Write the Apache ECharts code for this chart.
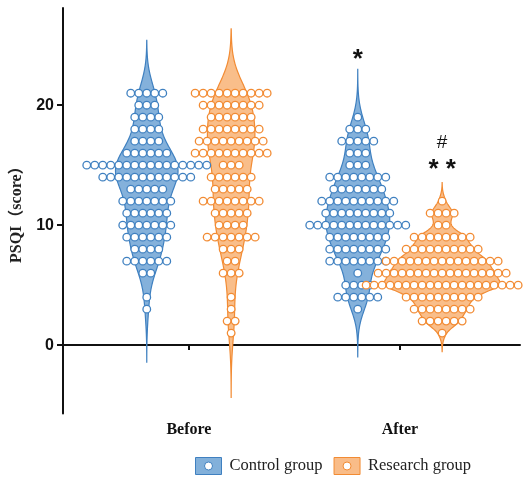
<!DOCTYPE html>
<html><head><meta charset="utf-8">
<script src="https://cdn.jsdelivr.net/npm/echarts@6/dist/echarts.min.js"></script>
<style>html,body{margin:0;padding:0;background:#fff}#c{width:523px;height:477px}</style>
</head><body><div id="c"></div>
<script>
// ---------------- data ----------------
const timeLabels = ['Before', 'After'];
const groupNames = ['Control group', 'Research group'];

// PSQI score rows and number of subjects on each row
const beforeControlScores  = [21,20,19,18,17,16,15,14,13,12,11,10,9,8,7,6,4,3];
const beforeControlCounts  = [5,3,4,4,4,6,16,12,5,7,6,7,6,4,6,2,1,1];
const beforeResearchScores = [21,20,19,18,17,16,15,14,13,12,11,10,9,8,7,6,4,3,2,1];
const beforeResearchCounts = [10,8,6,8,9,10,3,6,5,8,5,4,7,3,2,3,1,1,2,1];
const afterControlScores   = [19,18,17,16,15,14,13,12,11,10,9,8,7,6,5,4,3];
const afterControlCounts   = [1,3,5,3,3,8,7,10,9,13,8,8,8,1,4,6,1];
const afterResearchScores  = [12,11,10,9,8,7,6,5,4,3,2,1];
const afterResearchCounts  = [1,4,2,8,10,15,17,20,10,8,6,1];

// significance marks
const annotationTexts  = ['*', '#', '* *'];
const annotationTime   = [1, 1, 1];
const annotationGroup  = [0, 1, 1];
const annotationScores = [23.75, 16.85, 14.6];

const yTickValues = [0, 10, 20];

// ---------------- styles ----------------
const strokeColors = ['#3F80C0', '#F28B33'];
const fillColors   = ['#84B1DB', '#F9BE8A'];
const legendFill   = ['#82B0DA', '#F9BC88'];
const DOT_STEP = 8;          // px between neighbouring dots on a row
const DOT_R = 3.8;
const MAX_HALF_WIDTH = 58;   // px, widest violin half width
const GROUP_SHIFT = 0.2;     // x offset of the two groups around each time point

const cells = [
  { t: 0, g: 0, scores: beforeControlScores,  counts: beforeControlCounts },
  { t: 0, g: 1, scores: beforeResearchScores, counts: beforeResearchCounts },
  { t: 1, g: 0, scores: afterControlScores,   counts: afterControlCounts },
  { t: 1, g: 1, scores: afterResearchScores,  counts: afterResearchCounts }
];
function cellX(t, g) { return (t + 1) + (g === 0 ? -GROUP_SHIFT : GROUP_SHIFT); }

// kernel density (Silverman bandwidth), tails extended by 3h
function quantile(sorted, p) {
  const pos = (sorted.length - 1) * p, lo = Math.floor(pos), hi = Math.ceil(pos);
  return sorted[lo] + (sorted[hi] - sorted[lo]) * (pos - lo);
}
cells.forEach(c => {
  const vals = [];
  c.scores.forEach((s, i) => { for (let k = 0; k < c.counts[i]; k++) vals.push(s); });
  vals.sort((a, b) => a - b);
  const n = vals.length;
  const mean = vals.reduce((a, b) => a + b, 0) / n;
  const sd = Math.sqrt(vals.reduce((a, b) => a + (b - mean) * (b - mean), 0) / (n - 1));
  const iqr = quantile(vals, 0.75) - quantile(vals, 0.25);
  const h = 0.9 * Math.min(sd, iqr / 1.34) * Math.pow(n, -0.2);
  const lo = vals[0] - 3 * h, hi = vals[n - 1] + 3 * h;
  const steps = 240, pts = [];
  for (let i = 0; i <= steps; i++) {
    const y = lo + (hi - lo) * i / steps;
    let d = 0;
    c.scores.forEach((s, j) => { const z = (y - s) / h; d += c.counts[j] * Math.exp(-0.5 * z * z); });
    d /= n * h * Math.sqrt(2 * Math.PI);
    if (i === 0 || i === steps) d = 0;
    pts.push([y, d]);
  }
  c.kde = pts;
  c.median = quantile(vals, 0.5);
});
const maxDensity = Math.max(...cells.map(c => Math.max(...c.kde.map(p => p[1]))));
const pxPerDensity = MAX_HALF_WIDTH / maxDensity;

// ---------------- series ----------------
const series = [];
[0, 1].forEach(g => {
  const myCells = cells.filter(c => c.g === g);
  series.push({
    type: 'custom', name: groupNames[g], silent: true,
    data: myCells.map(c => [cellX(c.t, c.g), c.median]),
    renderItem: (params, api) => {
      const c = myCells[params.dataIndex];
      const xc = cellX(c.t, c.g);
      const right = [], left = [];
      c.kde.forEach(([y, d]) => {
        const p = api.coord([xc, y]);
        right.push([p[0] + d * pxPerDensity, p[1]]);
        left.push([p[0] - d * pxPerDensity, p[1]]);
      });
      return { type: 'polygon', shape: { points: right.concat(left.reverse()) },
        style: { fill: fillColors[g], stroke: strokeColors[g], lineWidth: 1.2 } };
    }
  });
});
[0, 1].forEach(g => {
  const dots = [];
  cells.filter(c => c.g === g).forEach(c => {
    c.scores.forEach((s, i) => {
      const n = c.counts[i];
      for (let k = 0; k < n; k++) dots.push([cellX(c.t, c.g), s, (k - (n - 1) / 2) * DOT_STEP]);
    });
  });
  series.push({
    type: 'custom', name: groupNames[g], silent: true,
    data: dots,
    renderItem: (params, api) => {
      const p = api.coord([api.value(0), api.value(1)]);
      return { type: 'circle', shape: { cx: p[0] + api.value(2), cy: p[1], r: DOT_R },
        style: { fill: '#fff', stroke: strokeColors[g], lineWidth: 1.3 } };
    }
  });
});
series.push({
  type: 'custom', silent: true,
  data: annotationTexts.map((t, i) => [cellX(annotationTime[i], annotationGroup[i]), annotationScores[i], i]),
  renderItem: (params, api) => {
    const p = api.coord([api.value(0), api.value(1)]);
    const txt = annotationTexts[api.value(2)];
    const isStar = txt.indexOf('*') >= 0;
    return { type: 'text', x: p[0], y: p[1],
      style: { text: txt, fill: '#111', align: 'center', verticalAlign: 'middle',
        font: isStar ? 'bold 26px "Liberation Sans"' : '19px "Liberation Sans"' } };
  }
});

const legendIcon = 'path://M0,0L26,0L26,17L0,17Z M13,4.5A4,4 0 1 0 13,12.5A4,4 0 1 0 13,4.5Z';

const option = {
  animation: false,
  backgroundColor: '#fff',
  grid: { left: 63, right: 3, top: 8, bottom: 63.5, containLabel: false },
  legend: {
    left: 190, top: 452, itemWidth: 26, itemHeight: 17, itemGap: 11,
    textStyle: { fontFamily: '"Liberation Serif"', fontSize: 16.5, color: '#222', padding: [0, 0, 0, 3] },
    data: groupNames.map((n, g) => ({ name: n, icon: legendIcon,
      itemStyle: { color: legendFill[g], borderColor: strokeColors[g], borderWidth: 1 } }))
  },
  xAxis: {
    type: 'value', min: 0.403, max: 2.569,
    splitLine: { show: false },
    axisLine: { lineStyle: { color: '#111', width: 2 } },
    axisTick: { customValues: [1, 2], length: 5, lineStyle: { color: '#111', width: 2 } },
    axisLabel: { customValues: [1, 2], margin: 8, color: '#111',
      fontFamily: '"Liberation Serif"', fontWeight: 'bold', fontSize: 16,
      formatter: v => timeLabels[Math.round(v) - 1] }
  },
  yAxis: {
    type: 'value', min: -5.7, max: 28.1,
    name: 'PSQI（score）', nameLocation: 'middle', nameGap: 33, nameRotate: 90,
    nameTextStyle: { fontFamily: '"Liberation Serif","Noto Sans CJK SC"', fontWeight: 'bold', fontSize: 16, color: '#222' },
    splitLine: { show: false },
    axisLine: { show: true, lineStyle: { color: '#111', width: 2 } },
    axisTick: { show: true, customValues: yTickValues, length: 6, lineStyle: { color: '#111', width: 2 } },
    axisLabel: { customValues: yTickValues, margin: 9, color: '#111',
      fontFamily: '"Liberation Sans"', fontWeight: 'bold', fontSize: 16 }
  },
  series
};
echarts.init(document.getElementById('c'), null, { renderer: 'canvas' }).setOption(option);
</script></body></html>
